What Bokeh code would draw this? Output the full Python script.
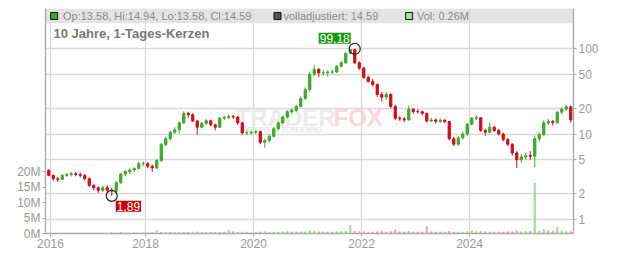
from bokeh.plotting import figure
from bokeh.models import (Range1d, LinearAxis, LinearScale, FixedTicker, BoxAnnotation,
                          Label, ColumnDataSource)
from bokeh.embed import file_html
from bokeh.resources import INLINE
import pandas as pd

# ---------------- data (monthly candles) ----------------
months = pd.date_range("2016-03-01", "2025-11-01", freq="MS")
first_open = 3.75
close = [
    3.28, 3.0, 2.95, 3.28, 3.35, 3.43, 3.35, 3.28, 3.0, 2.5,
    2.35, 2.2, 2.35, 2.2, 2.15, 2.7, 3.4, 3.65, 3.8, 3.95, 4.5, 4.5,
    4.2, 4.0, 4.9, 7.5, 8.8, 10.5, 11.2, 13.5, 17.4, 16.8, 14.2, 12.0,
    13.3, 14.3, 12.8, 12.0, 15.3, 15.6, 16.0, 15.8, 13.5, 10.3, 10.3, 10.5,
    10.6, 8.0, 8.4, 9.4, 11.5, 13.5, 15.8, 18.2, 19.0, 21.0, 26.0, 33.0,
    50.0, 57.0, 52.0, 52.0, 53.0, 53.0, 62.0, 68.0, 88.0, 97.0, 68.0, 59.0,
    46.0, 41.0, 38.0, 29.0, 27.0, 29.0, 21.0, 15.3, 15.0, 14.6, 19.5, 18.3,
    18.2, 17.4, 14.2, 14.6, 14.0, 14.5, 14.0, 8.8, 7.6, 9.0, 10.0, 13.0,
    15.3, 15.5, 11.0, 10.5, 12.0, 11.0, 10.0, 8.6, 7.6, 6.0, 5.0, 5.4,
    5.6, 5.5, 8.8, 9.8, 13.5, 14.0, 13.6, 18.0, 19.5, 20.8, 14.59,
]
high = [
    3.9, 3.35, 3.15, 3.4, 3.5, 3.6, 3.6, 3.55, 3.4, 3.1,
    2.6, 2.45, 2.5, 2.5, 2.35, 2.8, 3.5, 3.8, 3.95, 4.1, 4.7, 4.8,
    4.7, 4.4, 5.1, 7.9, 9.3, 11.0, 12.0, 14.0, 18.5, 18.2, 17.5, 14.5,
    13.8, 15.0, 14.8, 13.2, 15.8, 16.4, 16.8, 16.8, 16.2, 13.8, 11.0, 11.0,
    11.2, 11.0, 8.8, 9.8, 12.0, 14.0, 16.5, 19.0, 19.8, 22.0, 27.5, 35.0,
    54.0, 64.0, 59.0, 56.0, 56.0, 57.0, 64.0, 71.0, 90.0, 98.0, 99.18, 71.0,
    61.0, 48.0, 44.0, 39.0, 31.0, 31.0, 30.0, 22.0, 16.2, 15.8, 21.5, 20.0,
    19.5, 18.8, 17.8, 15.3, 15.2, 15.2, 14.9, 14.2, 9.2, 9.4, 10.6, 13.5,
    15.8, 16.5, 15.8, 11.5, 13.6, 12.5, 11.4, 10.3, 9.0, 7.8, 6.3, 5.8,
    6.0, 6.3, 9.6, 10.5, 14.5, 15.0, 14.6, 18.6, 20.5, 22.0, 21.5,
]
low = [
    3.2, 2.85, 2.75, 2.9, 3.15, 3.2, 3.2, 3.1, 2.85, 2.4,
    2.2, 2.05, 2.1, 2.05, 1.89, 2.05, 2.6, 3.2, 3.4, 3.6, 3.85, 4.2,
    4.0, 3.6, 3.9, 4.7, 7.2, 8.4, 10.0, 10.2, 13.0, 15.5, 13.8, 9.8,
    11.6, 12.8, 12.3, 11.0, 11.8, 14.6, 15.0, 15.0, 12.8, 9.8, 9.7, 9.9,
    10.0, 7.6, 6.9, 8.0, 9.1, 11.0, 13.0, 15.2, 17.0, 18.2, 20.5, 25.0,
    31.0, 48.0, 46.0, 48.0, 47.0, 50.0, 52.0, 60.0, 66.0, 85.0, 66.0, 56.0,
    44.0, 40.0, 36.0, 27.0, 24.0, 25.0, 20.0, 14.6, 14.2, 13.8, 14.3, 17.2,
    17.3, 16.6, 13.6, 13.8, 13.4, 13.5, 13.3, 8.4, 7.2, 7.3, 8.6, 9.5,
    12.6, 14.5, 10.6, 9.6, 10.2, 10.6, 9.6, 8.2, 7.2, 5.6, 4.0, 4.6,
    5.0, 5.0, 4.1, 8.2, 9.5, 12.8, 12.6, 13.2, 17.0, 18.6, 13.58,
]
volume_m = [
    0.05, 0.05, 0.04, 0.05, 0.04, 0.05, 0.04, 0.05, 0.05, 0.06,
    0.06, 0.05, 0.06, 0.08, 0.3, 0.1, 0.3, 0.1, 0.1, 0.3, 0.1, 0.2,
    0.2, 0.3, 1.0, 0.4, 0.3, 0.4, 0.3, 0.3, 0.4, 0.3, 0.2, 0.5,
    0.3, 0.3, 0.4, 0.3, 0.4, 0.5, 1.1, 0.6, 0.4, 0.5, 0.4, 0.3,
    0.4, 0.5, 0.6, 0.4, 0.5, 0.4, 0.5, 0.6, 0.5, 0.6, 0.5, 0.6,
    0.9, 0.7, 0.6, 0.5, 0.5, 0.5, 0.6, 0.6, 0.7, 2.6, 0.8, 0.6,
    0.6, 0.5, 0.5, 0.6, 0.7, 0.5, 0.6, 1.2, 0.6, 0.5, 0.7, 0.5,
    0.5, 0.5, 2.3, 0.6, 0.5, 0.5, 0.4, 0.7, 0.5, 0.5, 0.5, 0.6,
    0.8, 0.6, 0.6, 0.6, 0.5, 0.5, 0.5, 0.5, 0.6, 0.6, 1.0, 0.6,
    0.6, 0.7, 16.4, 0.8, 1.2, 0.9, 0.8, 2.0, 0.9, 0.7, 0.6,
]
year_ticks = [2016.24, 2018, 2020, 2022, 2024]
year_labels = ["2016", "2018", "2020", "2022", "2024"]
price_ticks = [1, 2, 5, 10, 20, 50, 100]
price_labels = ["1", "2", "5", "10", "20", "50", "100"]
vol_ticks = [0, 5, 10, 15, 20]
vol_labels = ["0M", "5M", "10M", "15M", "20M"]
legend_texts = ["Op:13.58, Hi:14.94, Lo:13.58, Cl:14.59", "volladjustiert: 14.59", "Vol: 0.26M"]
title_text = "10 Jahre, 1-Tages-Kerzen"

# ---------------- styling helpers ----------------
GREEN, RED = "#43a72f", "#c3141c"
VGREEN, VRED = "#a3dc9c", "#f3a7ae"
FONT = "Liberation Sans"

def xd(px):  # screen px -> year
    return 2018 + (px - 145) / 54.0

def yd(py):  # screen px -> price (log)
    return 10 ** (2 - (py - 48) / 85.5)

x = [d.year + (d.month - 0.5) / 12 for d in months]
opn = [first_open] + close[:-1]
up = [c >= o for o, c in zip(opn, close)]
src = ColumnDataSource(dict(
    x=x, open=opn, close=close, high=high, low=low,
    btop=[max(o, c) for o, c in zip(opn, close)],
    bbot=[min(o, c) for o, c in zip(opn, close)],
    color=[GREEN if u else RED for u in up],
    vol=volume_m,
    vcolor=[VGREEN if u else VRED for u in up],
))

p = figure(width=632, height=253, output_backend="svg", toolbar_location=None,
           y_axis_type="log", y_axis_location="right",
           x_range=Range1d(xd(45), xd(573)), y_range=Range1d(yd(233), yd(8)),
           min_border_left=45, min_border_right=59, min_border_top=8, min_border_bottom=20)
p.outline_line_color = None
p.background_fill_color = "white"
p.extra_y_ranges = {"vol": Range1d(0, 73)}
p.extra_y_scales = {"vol": LinearScale()}

# legend band
band = BoxAnnotation(bottom=yd(22.7), top=yd(8), fill_color="#e4e4e4", fill_alpha=1,
                     line_color=None, level="image")
p.add_layout(band)

# grids
p.xgrid.ticker = FixedTicker(ticks=year_ticks)
p.ygrid.ticker = FixedTicker(ticks=price_ticks)
for g in (p.xgrid, p.ygrid):
    g.grid_line_color = "#d9d9d9"
    g.grid_line_width = 1.3

# axes
def style_axis(ax):
    ax.axis_line_color = "#aaaaaa"
    ax.axis_line_width = 1.3
    ax.major_tick_line_color = "#aaaaaa"
    ax.minor_tick_line_color = None
    ax.major_tick_in = 0
    ax.major_tick_out = 3
    ax.major_label_text_font = FONT
    ax.major_label_text_font_size = "12px"
    ax.major_label_text_color = "#9a9a9a"
    ax.major_label_standoff = 2

ya = p.yaxis[0]
ya.ticker = FixedTicker(ticks=price_ticks)
ya.major_label_overrides = dict(zip(price_ticks, price_labels))
style_axis(ya)

xa = p.xaxis[0]
xa.ticker = FixedTicker(ticks=year_ticks)
xa.major_label_overrides = dict(zip(year_ticks, year_labels))
style_axis(xa)

va = LinearAxis(y_range_name="vol", ticker=FixedTicker(ticks=vol_ticks),
                major_label_overrides=dict(zip(vol_ticks, vol_labels)))
style_axis(va)
p.add_layout(va, "left")

# watermark
for txt, px_, col, size in [("TRADER", 235, "#ebebeb", "24px"), ("FOX", 333, "#fad7da", "24px")]:
    p.add_layout(Label(x=xd(px_), y=yd(117), text=txt, text_font=FONT, text_font_style="bold",
                       text_font_size=size, text_color=col, text_baseline="middle",
                       level="underlay"))
p.add_layout(Label(x=xd(238), y=yd(129), text="THE STOCK SCREENING", text_font=FONT,
                   text_font_style="bold", text_font_size="7px", text_color="#e6e6e6",
                   text_baseline="middle", level="underlay"))

# volume
p.vbar(x="x", width=0.25 / 12, top="vol", bottom=0, source=src, y_range_name="vol",
       fill_color="vcolor", line_color="vcolor")

# candles
p.segment(x0="x", y0="low", x1="x", y1="high", source=src, line_color="color", line_width=1)
p.vbar(x="x", width=0.5 / 12, top="btop", bottom="bbot", source=src,
       fill_color="color", line_color="color")

# extreme markers
imax = max(range(len(high)), key=lambda i: high[i])
imin = min(range(len(low)), key=lambda i: low[i])
p.scatter(x=[x[imax], x[imin]], y=[high[imax], low[imin]], size=11, marker="circle",
          fill_color=None, line_color="#222222", line_width=1.2)
p.add_layout(Label(x=x[imax], y=high[imax], text=f"{high[imax]:.2f}".replace(".", ","),
                   text_align="right", text_baseline="bottom", x_offset=-4, y_offset=5,
                   text_font=FONT, text_font_size="12px", text_color="white",
                   background_fill_color="#119a11", padding=1))
p.add_layout(Label(x=x[imin], y=low[imin], text=f"{low[imin]:.2f}".replace(".", ","),
                   text_align="left", text_baseline="top", x_offset=4, y_offset=-5,
                   text_font=FONT, text_font_size="12px", text_color="white",
                   background_fill_color="#c40008", padding=1))

# legend in band
sq = [(53.7, "#43a72f"), (277, "#555555"), (408.7, "#a8e0a2")]
p.scatter(x=[xd(s[0]) for s in sq], y=[yd(15.5)] * 3, marker="square", size=7,
          fill_color=[s[1] for s in sq], line_color="#111111", line_width=1)
for txt, px_ in zip(legend_texts, [62.5, 283, 416.5]):
    p.add_layout(Label(x=xd(px_), y=yd(15.5), text=txt, text_font=FONT, text_font_size="11px",
                       text_color="#8c8c8c", text_baseline="middle"))

p.add_layout(Label(x=xd(53), y=yd(33), text=title_text, text_font=FONT,
                   text_font_style="bold", text_font_size="13px", text_color="#777777",
                   text_baseline="middle"))

open("out.html", "w").write(file_html(p, INLINE))
